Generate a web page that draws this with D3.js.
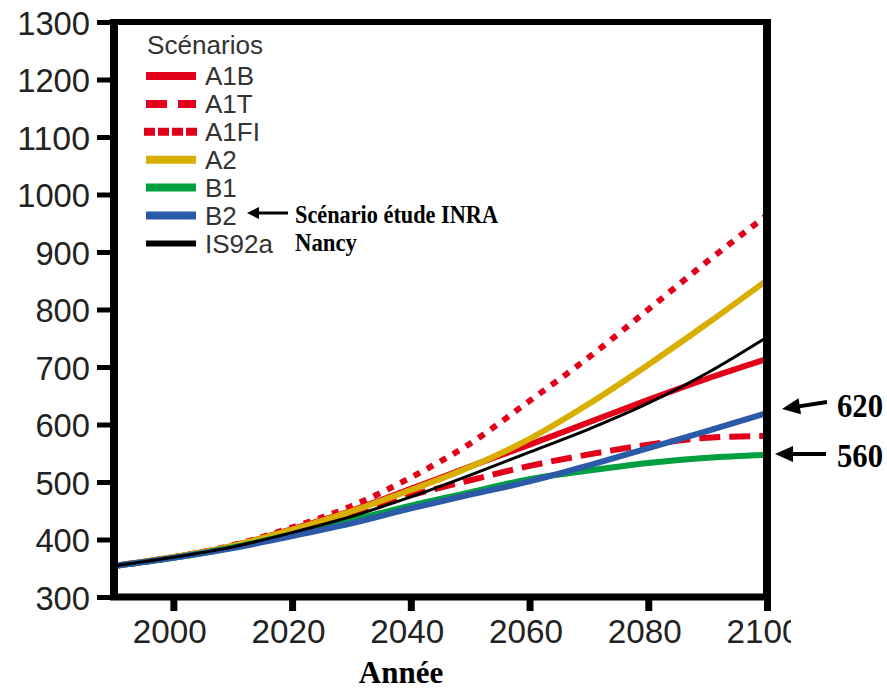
<!DOCTYPE html>
<html>
<head>
<meta charset="utf-8">
<script src="https://cdn.jsdelivr.net/npm/d3@7/dist/d3.min.js"></script>
<style>
  html, body { margin: 0; padding: 0; background: #fff; }
  svg { display: block; }
</style>
</head>
<body>
<svg id="chart" width="887" height="691"></svg>
<script>
// ---------- DATA ----------
const years = [1990, 2000, 2010, 2020, 2030, 2040, 2050, 2060, 2070, 2080, 2090, 2100];
const A1B   = [354, 369, 389, 418, 450, 488, 527, 565, 604, 643, 680, 714];
const A1T   = [354, 369, 388, 416, 447, 477, 503, 528, 548, 565, 577, 580];
const A1FI  = [354, 369, 390, 421, 458, 508, 567, 641, 717, 800, 884, 964];
const A2    = [354, 369, 389, 417, 449, 486, 526, 575, 636, 704, 776, 851];
const B1    = [354, 368, 386, 409, 433, 459, 482, 505, 520, 533, 542, 547];
const B2    = [354, 368, 385, 406, 428, 454, 478, 501, 529, 559, 589, 620];
const IS92a = [354, 369, 387, 412, 440, 474, 512, 552, 592, 637, 690, 752];
const seriesNames = ["A1B", "A1T", "A1FI", "A2", "B1", "B2", "IS92a"];
const seriesValues = [A1B, A1T, A1FI, A2, B1, B2, IS92a];
const yTicks = [300, 400, 500, 600, 700, 800, 900, 1000, 1100, 1200, 1300];
const xTicks = [2000, 2020, 2040, 2060, 2080, 2100];
const legendTitle = "Scénarios";
const xTitle = "Année";
const noteINRA = "Scénario étude INRA";
const noteNancy = "Nancy";
const markLabels = ["620", "560"];

// ---------- STYLES ----------
const RED = "#e2001a", YEL = "#d8af00", GRN = "#00a040", BLU = "#2b5ba8";
const styles = {
  A1B:   {color: RED, width: 6, dash: null,   lDash: null},
  A1T:   {color: RED, width: 6, dash: "21,9", lDash: "21,11"},
  A1FI:  {color: RED, width: 6, dash: "7,8",  lDash: "11,3"},
  A2:    {color: YEL, width: 6, dash: null,   lDash: null},
  B1:    {color: GRN, width: 6, dash: null,   lDash: null},
  B2:    {color: BLU, width: 6, dash: null,   lDash: null},
  IS92a: {color: "#000", width: 3, dash: null, lDash: null}
};
const sans = "'Liberation Sans', Arial, sans-serif";
const serif = "'Liberation Serif', 'Times New Roman', serif";

const svg = d3.select("#chart");
svg.append("rect").attr("width", 887).attr("height", 691).attr("fill", "#fff");

const L = 114, R = 767, T = 22, B = 597;
const x = d3.scaleLinear().domain([1990, 2100]).range([L, R]);
const y = d3.scaleLinear().domain([300, 1300]).range([B, T]);

svg.append("defs").append("clipPath").attr("id", "lblclip")
  .append("rect").attr("x", 0).attr("y", 0).attr("width", 791).attr("height", 691);

// ---------- LINES ----------
const line = d3.line()
  .x((d, i) => x(years[i]))
  .y(d => y(d))
  .curve(d3.curveMonotoneX);

const gLines = svg.append("g");
seriesNames.forEach((name, k) => {
  const s = styles[name];
  gLines.append("path")
    .attr("d", line(seriesValues[k]))
    .attr("fill", "none")
    .attr("stroke", s.color)
    .attr("stroke-width", s.width)
    .attr("stroke-dasharray", s.dash)
    .attr("stroke-linecap", "butt");
});

// ---------- FRAME ----------
const frame = svg.append("g").attr("stroke", "#000");
frame.append("line").attr("x1", L - 4).attr("x2", R + 4).attr("y1", T).attr("y2", T).attr("stroke-width", 6);
frame.append("line").attr("x1", L - 4).attr("x2", R + 4).attr("y1", B).attr("y2", B).attr("stroke-width", 7);
frame.append("line").attr("x1", L).attr("x2", L).attr("y1", T - 3).attr("y2", B + 3).attr("stroke-width", 8);
frame.append("line").attr("x1", R).attr("x2", R).attr("y1", T - 3).attr("y2", B + 3).attr("stroke-width", 8);

// ---------- AXES ----------
const yAxis = d3.axisLeft(y).tickValues(yTicks).tickFormat(d3.format("d")).tickSize(17).tickPadding(7);
const gy = svg.append("g").attr("transform", `translate(${L},0)`).call(yAxis);
gy.select(".domain").remove();
gy.selectAll(".tick line").attr("stroke", "#000").attr("stroke-width", 5);
gy.selectAll(".tick text")
  .attr("fill", "#222")
  .style("font-family", sans)
  .style("font-size", "34px")
  .attr("dy", "0.36em")
  .attr("textLength", d => String(d).length * 18.2)
  .attr("lengthAdjust", "spacingAndGlyphs");

const xAxis = d3.axisBottom(x).tickValues(xTicks).tickFormat(d3.format("d")).tickSize(14).tickPadding(8);
const xWrap = svg.append("g").attr("clip-path", "url(#lblclip)");
const gx = xWrap.append("g").attr("transform", `translate(0,${B})`).call(xAxis);
gx.select(".domain").remove();
gx.selectAll(".tick line").attr("stroke", "#000").attr("stroke-width", 7);
gx.selectAll(".tick text")
  .attr("fill", "#222")
  .attr("dx", -4)
  .style("font-family", sans)
  .style("font-size", "34px")
  .attr("textLength", 74)
  .attr("lengthAdjust", "spacingAndGlyphs");

svg.append("text")
  .attr("x", 401).attr("y", 683)
  .attr("text-anchor", "middle")
  .style("font-family", serif)
  .style("font-weight", "bold")
  .style("font-size", "31px")
  .attr("fill", "#000")
  .text(xTitle);

// ---------- LEGEND ----------
const leg = svg.append("g");
leg.append("text")
  .attr("x", 147).attr("y", 54)
  .style("font-family", sans)
  .style("font-size", "26px")
  .attr("fill", "#333")
  .attr("textLength", 116).attr("lengthAdjust", "spacingAndGlyphs")
  .text(legendTitle);

const rowY = i => 76 + i * 27.9;
seriesNames.forEach((name, i) => {
  const s = styles[name];
  const yy = rowY(i);
  leg.append("line")
    .attr("x1", name === "A1FI" ? 144 : 146).attr("x2", name === "A1FI" ? 199 : 196)
    .attr("y1", yy).attr("y2", yy)
    .attr("stroke", s.color)
    .attr("stroke-width", name === "IS92a" ? 6 : 8)
    .attr("stroke-dasharray", s.lDash);
  leg.append("text")
    .attr("x", 205).attr("y", yy)
    .attr("dy", "0.36em")
    .style("font-family", sans)
    .style("font-size", "26px")
    .attr("fill", "#333")
    .text(name);
});

// ---------- ANNOTATIONS ----------
function arrow(x1, y1, x2, y2, headLen, headHalf, width) {
  const ang = Math.atan2(y2 - y1, x2 - x1);
  const bx = x2 - headLen * Math.cos(ang), by = y2 - headLen * Math.sin(ang);
  svg.append("line").attr("x1", x1).attr("y1", y1).attr("x2", bx + Math.cos(ang)).attr("y2", by + Math.sin(ang))
    .attr("stroke", "#000").attr("stroke-width", width);
  const px = -Math.sin(ang) * headHalf, py = Math.cos(ang) * headHalf;
  svg.append("path")
    .attr("d", `M${x2},${y2}L${bx + px},${by + py}L${bx - px},${by - py}Z`)
    .attr("fill", "#000");
}

arrow(288, 213, 247, 213, 12, 6, 3);
svg.append("text").attr("x", 295).attr("y", 223)
  .style("font-family", serif).style("font-weight", "bold").style("font-size", "26px")
  .attr("textLength", 203).attr("lengthAdjust", "spacingAndGlyphs")
  .text(noteINRA);
svg.append("text").attr("x", 295).attr("y", 251)
  .style("font-family", serif).style("font-weight", "bold").style("font-size", "26px")
  .attr("textLength", 62).attr("lengthAdjust", "spacingAndGlyphs")
  .text(noteNancy);

arrow(827, 402, 782, 409, 18, 8, 4);
arrow(826, 454, 775, 454, 18, 8, 4);
svg.append("text").attr("x", 837).attr("y", 417)
  .style("font-family", serif).style("font-weight", "bold").style("font-size", "33px")
  .attr("textLength", 46).attr("lengthAdjust", "spacingAndGlyphs")
  .text(markLabels[0]);
svg.append("text").attr("x", 837).attr("y", 467)
  .style("font-family", serif).style("font-weight", "bold").style("font-size", "33px")
  .attr("textLength", 46).attr("lengthAdjust", "spacingAndGlyphs")
  .text(markLabels[1]);
</script>
</body>
</html>
